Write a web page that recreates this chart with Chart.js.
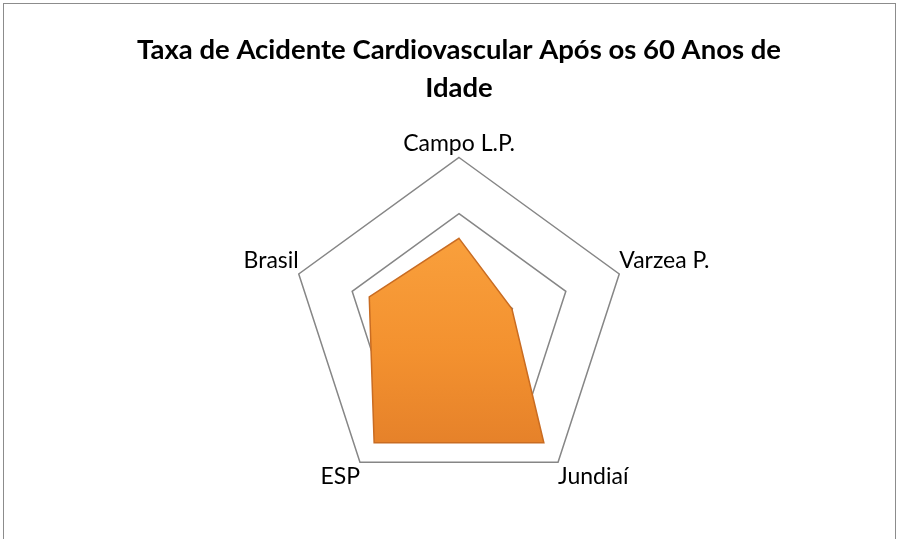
<!DOCTYPE html>
<html>
<head>
<meta charset="utf-8">
<script src="https://cdn.jsdelivr.net/npm/chart.js@4.4.0/dist/chart.umd.min.js"></script>
<style>
  html, body { margin: 0; padding: 0; background: #fff; }
  #frame {
    position: absolute; left: 3px; top: 3px; width: 893px; height: 560px;
    border: 1px solid #8c8c8c; box-sizing: border-box;
  }
  #wrap { position: absolute; left: 0; top: 0; width: 900px; height: 539px; }
</style>
</head>
<body>
<div id="frame"></div>
<div id="wrap"><canvas id="myChart" width="900" height="539"></canvas></div>
<script>
    // categories and values
    const categories = ['Campo L.P.', 'Varzea P.', 'Jundiaí', 'ESP', 'Brasil'];
    const rates = [7.8, 4.95, 12.85, 12.85, 8.4];
    const scaleMax = 15;
    const scaleStep = 5;
    const titleLines = ['Taxa de Acidente Cardiovascular Após os 60 Anos de', 'Idade'];

    let ctx = document.getElementById('myChart').getContext('2d');

    function orangeFill(context) {
        let area = context.chart.chartArea;
        if (!area) return '#f39433';
        let g = context.chart.ctx.createLinearGradient(0, area.top + 80, 0, area.bottom);
        g.addColorStop(0, '#fba541');
        g.addColorStop(0.5, '#f3912f');
        g.addColorStop(1, '#dc7626');
        return g;
    }

    let chart = new Chart(ctx, {
        type: 'radar',
        data: {
            labels: categories,
            datasets: [{
                label: 'Taxa',
                data: rates,
                fill: true,
                backgroundColor: orangeFill,
                borderColor: '#c96c22',
                borderWidth: 1.5,
                pointRadius: 0,
                tension: 0
            }]
        },
        options: {
            responsive: false,
            animation: false,
            layout: { padding: { left: 18, right: 0, top: 0, bottom: 29 } },
            plugins: {
                legend: { display: false },
                tooltip: { enabled: false },
                title: {
                    display: true,
                    text: titleLines,
                    color: '#000',
                    font: { family: 'Lato', size: 27.5, weight: 'bold', lineHeight: 1.38 },
                    padding: { top: 31, bottom: 9 }
                }
            },
            scales: {
                r: {
                    min: 0,
                    max: scaleMax,
                    beginAtZero: true,
                    ticks: { display: false, stepSize: scaleStep },
                    angleLines: { display: false },
                    grid: {
                        color: function (c) { return c.index === 0 ? 'rgba(0,0,0,0)' : '#868686'; },
                        lineWidth: 1.5
                    },
                    pointLabels: {
                        color: '#000',
                        font: { family: 'Lato', size: 23 },
                        padding: 0
                    }
                }
            }
        }
    });
</script>
</body>
</html>
